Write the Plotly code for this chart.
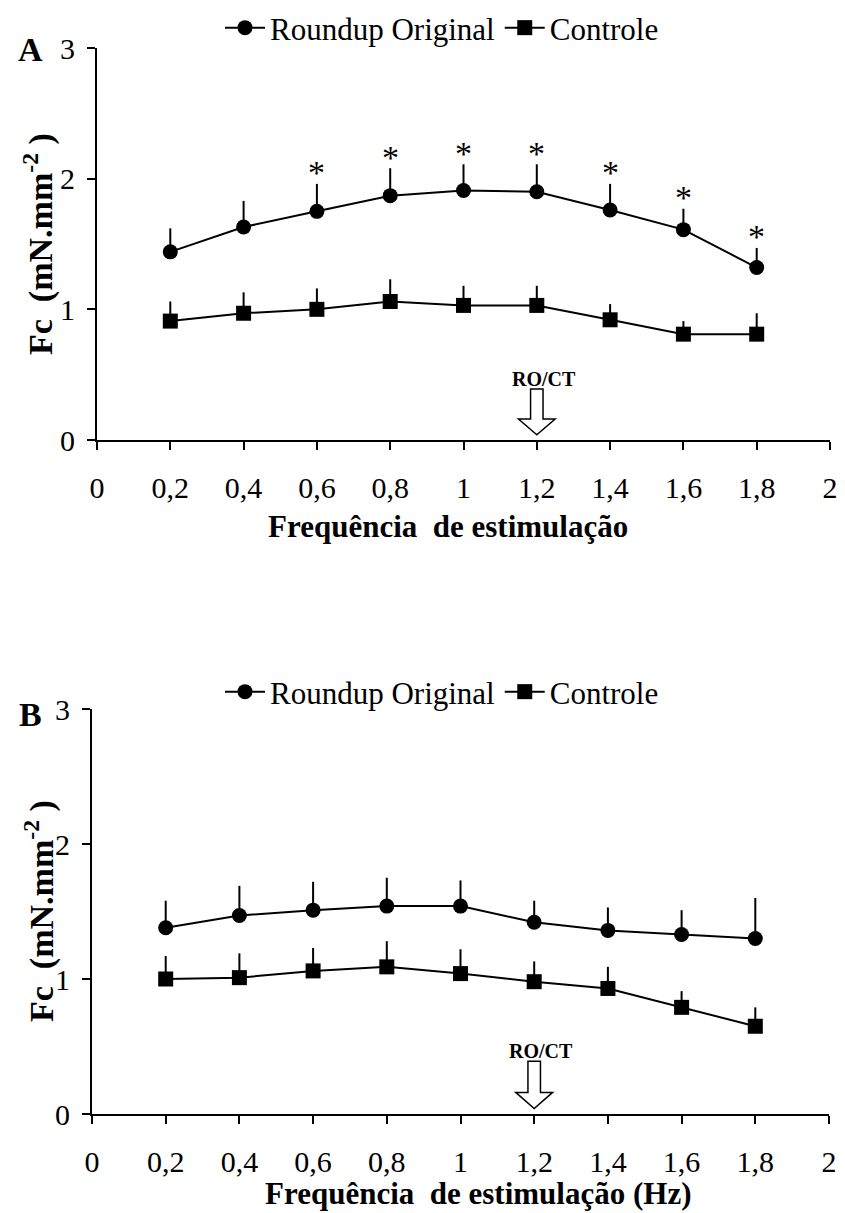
import plotly.graph_objects as go

# ---------------- data ----------------
freq = [0.2, 0.4, 0.6, 0.8, 1.0, 1.2, 1.4, 1.6, 1.8]

ro_a = [1.44, 1.63, 1.75, 1.87, 1.91, 1.90, 1.76, 1.61, 1.32]
ro_a_err = [0.18, 0.20, 0.21, 0.21, 0.20, 0.21, 0.20, 0.16, 0.15]
ct_a = [0.91, 0.97, 1.00, 1.06, 1.03, 1.03, 0.92, 0.81, 0.81]
ct_a_err = [0.15, 0.16, 0.16, 0.17, 0.15, 0.15, 0.12, 0.10, 0.16]
sig_a = [False, False, True, True, True, True, True, True, True]

ro_b = [1.38, 1.47, 1.51, 1.54, 1.54, 1.42, 1.36, 1.33, 1.30]
ro_b_err = [0.20, 0.22, 0.21, 0.21, 0.19, 0.16, 0.17, 0.18, 0.30]
ct_b = [1.00, 1.01, 1.06, 1.09, 1.04, 0.98, 0.93, 0.79, 0.65]
ct_b_err = [0.17, 0.18, 0.17, 0.19, 0.18, 0.15, 0.16, 0.12, 0.14]

x_ticks = [0, 0.2, 0.4, 0.6, 0.8, 1.0, 1.2, 1.4, 1.6, 1.8, 2.0]
x_tick_labels = ["0", "0,2", "0,4", "0,6", "0,8", "1", "1,2", "1,4", "1,6", "1,8", "2"]
y_ticks = [0, 1, 2, 3]
y_tick_labels = ["0", "1", "2", "3"]

series_names = ["Roundup Original", "Controle"]
marker_arrow_x = 1.2
marker_arrow_label = "RO/CT"
y_title = "Fc  (mN.mm<sup>-2</sup> )"
x_title_a = "Frequência  de estimulação"
x_title_b = "Frequência  de estimulação (Hz)"

# ---------------- style ----------------
W, H = 845, 1213
SERIF = "Liberation Serif"
BLACK = "black"

def px_x(p):
    return p / W

def px_y(p):
    return 1 - p / H

fig = go.Figure()

def add_series(xref, yref, ro, ro_err, ct, ct_err, legend):
    fig.add_trace(go.Scatter(
        x=freq, y=ro, name=series_names[0], mode="lines+markers",
        line=dict(color=BLACK, width=2),
        marker=dict(symbol="circle", size=15, color=BLACK),
        error_y=dict(type="data", symmetric=False, array=ro_err,
                     arrayminus=[0] * len(ro_err), color=BLACK,
                     thickness=2, width=0),
        xaxis=xref, yaxis=yref, legend=legend))
    fig.add_trace(go.Scatter(
        x=freq, y=ct, name=series_names[1], mode="lines+markers",
        line=dict(color=BLACK, width=2),
        marker=dict(symbol="square", size=15, color=BLACK),
        error_y=dict(type="data", symmetric=False, array=ct_err,
                     arrayminus=[0] * len(ct_err), color=BLACK,
                     thickness=2, width=0),
        xaxis=xref, yaxis=yref, legend=legend))

add_series("x", "y", ro_a, ro_a_err, ct_a, ct_a_err, "legend")
add_series("x2", "y2", ro_b, ro_b_err, ct_b, ct_b_err, "legend2")

axis_common = dict(
    showline=True, linecolor=BLACK, linewidth=2, showgrid=False,
    zeroline=False, ticks="outside", ticklen=8, tickwidth=2,
    tickcolor=BLACK, tickfont=dict(family=SERIF, size=30, color=BLACK),
    automargin=False,
)

legend_common = dict(
    orientation="h", xanchor="center", yanchor="middle",
    xref="container", yref="container",
    font=dict(family=SERIF, size=31, color=BLACK),
    bgcolor="rgba(0,0,0,0)", itemwidth=40, tracegroupgap=0,
)

fig.update_layout(
    width=W, height=H,
    margin=dict(l=0, r=0, t=0, b=0, pad=0, autoexpand=False),
    paper_bgcolor="white", plot_bgcolor="white",
    font=dict(family=SERIF, color=BLACK),
    showlegend=True,
    xaxis=dict(axis_common, domain=[px_x(97), px_x(830)], range=[0, 2],
               tickvals=x_ticks, ticktext=x_tick_labels, anchor="y",
               ticklabelstandoff=12),
    yaxis=dict(axis_common, domain=[px_y(440), px_y(48)], range=[0, 3],
               tickvals=y_ticks, ticktext=y_tick_labels, anchor="x",
               ticklabelstandoff=6),
    xaxis2=dict(axis_common, domain=[px_x(92), px_x(829)], range=[0, 2],
                tickvals=x_ticks, ticktext=x_tick_labels, anchor="y2",
                ticklabelstandoff=12),
    yaxis2=dict(axis_common, domain=[px_y(1114), px_y(709)], range=[0, 3],
                tickvals=y_ticks, ticktext=y_tick_labels, anchor="x2",
                ticklabelstandoff=6),
    legend=dict(legend_common, x=px_x(442), y=px_y(28)),
    legend2=dict(legend_common, x=px_x(442), y=px_y(692)),
)

annotations = []
# panel letters
annotations.append(dict(text="<b>A</b>", x=px_x(30), y=px_y(49), xref="paper", yref="paper",
                        showarrow=False, xanchor="center", yanchor="middle",
                        font=dict(family=SERIF, size=34, color=BLACK)))
annotations.append(dict(text="<b>B</b>", x=px_x(30), y=px_y(714), xref="paper", yref="paper",
                        showarrow=False, xanchor="center", yanchor="middle",
                        font=dict(family=SERIF, size=34, color=BLACK)))
# y titles
for yc in (244, 911):
    annotations.append(dict(text="<b>" + y_title + "</b>", x=px_x(39), y=px_y(yc),
                            xref="paper", yref="paper", showarrow=False, textangle=-90,
                            xanchor="center", yanchor="middle",
                            font=dict(family=SERIF, size=34, color=BLACK)))
# x titles
annotations.append(dict(text="<b>" + x_title_a + "</b>", x=px_x(448), y=px_y(526),
                        xref="paper", yref="paper", showarrow=False,
                        xanchor="center", yanchor="middle",
                        font=dict(family=SERIF, size=31, color=BLACK)))
annotations.append(dict(text="<b>" + x_title_b + "</b>", x=px_x(478), y=px_y(1193),
                        xref="paper", yref="paper", showarrow=False,
                        xanchor="center", yanchor="middle",
                        font=dict(family=SERIF, size=31, color=BLACK)))
# asterisks
for xv, v, e, s in zip(freq, ro_a, ro_a_err, sig_a):
    if s:
        annotations.append(dict(text="*", x=xv, y=v + e, xref="x", yref="y",
                                showarrow=False, xanchor="center", yanchor="middle",
                                yshift=11, font=dict(family=SERIF, size=34, color=BLACK)))

# RO/CT arrows
shapes = []
SHAFT_TOP, HEAD_TOP, TIP = 0.39, 0.16, 0.04
SHAFT_HW, HEAD_HW = 0.017, 0.05
for xr, yr in (("x", "y"), ("x2", "y2")):
    ax = marker_arrow_x
    path = (f"M {ax - SHAFT_HW},{SHAFT_TOP} L {ax + SHAFT_HW},{SHAFT_TOP} "
            f"L {ax + SHAFT_HW},{HEAD_TOP} L {ax + HEAD_HW},{HEAD_TOP} "
            f"L {ax},{TIP} L {ax - HEAD_HW},{HEAD_TOP} L {ax - SHAFT_HW},{HEAD_TOP} Z")
    shapes.append(dict(type="path", path=path, xref=xr, yref=yr,
                       line=dict(color=BLACK, width=1.5), fillcolor="white"))
    annotations.append(dict(text="<b>" + marker_arrow_label + "</b>", x=ax, y=SHAFT_TOP,
                            xref=xr, yref=yr, showarrow=False, xanchor="center",
                            yanchor="bottom", xshift=7, yshift=-3,
                            font=dict(family=SERIF, size=20, color=BLACK)))

fig.update_layout(annotations=annotations, shapes=shapes)

fig.write_html("out.html")
